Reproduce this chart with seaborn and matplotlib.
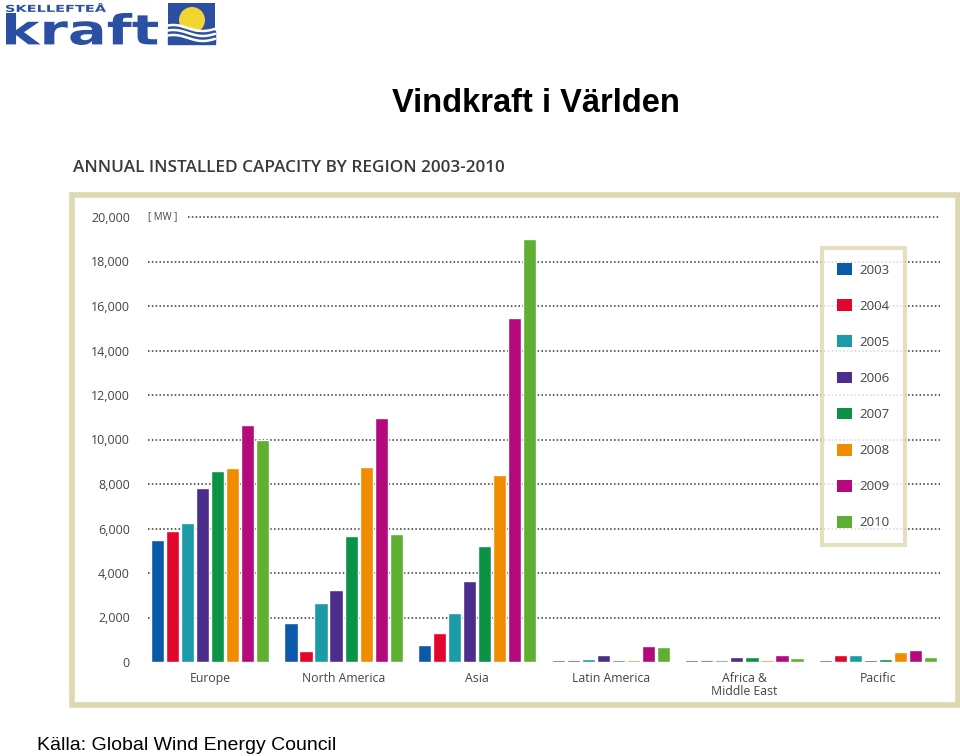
import pandas as pd
import matplotlib.pyplot as plt
import matplotlib.patches as mpatches
from matplotlib.textpath import TextPath
from matplotlib.font_manager import FontProperties
from matplotlib.transforms import Affine2D
import seaborn as sns
import numpy as np

# Data (MW installed per year)
regions = ['Europe', 'North America', 'Asia', 'Latin America', 'Africa &\nMiddle East', 'Pacific']
years = ['2003', '2004', '2005', '2006', '2007', '2008', '2009', '2010']
europe = [5500, 5900, 6250, 7800, 8600, 8700, 10650, 10000]
north_america = [1750, 500, 2650, 3250, 5650, 8750, 10950, 5750]
asia = [780, 1300, 2200, 3650, 5200, 8400, 15450, 19000]
latin_america = [70, 70, 120, 310, 70, 110, 730, 690]
africa_me = [70, 70, 70, 220, 220, 90, 300, 170]
pacific = [70, 310, 310, 110, 150, 430, 550, 210]
y_ticks = [0, 2000, 4000, 6000, 8000, 10000, 12000, 14000, 16000, 18000, 20000]

colors = ['#0b5aa9', '#e2062c', '#1b9aa8', '#4b2d8b', '#0a9346', '#f18b00', '#b4097c', '#5eaf32']

series = [europe, north_america, asia, latin_america, africa_me, pacific]
rows = []
for reg, vals in zip(regions, series):
    for yr, v in zip(years, vals):
        rows.append({'region': reg, 'year': yr, 'mw': v})
df = pd.DataFrame(rows)

W, H = 960, 756
def fx(x):
    return x / W
def fy(y):
    return 1 - y / H

sns.set_theme(style="white")
plt.rcParams['font.family'] = ['Open Sans', 'DejaVu Sans']

fig = plt.figure(figsize=(9.6, 7.56), dpi=100)
fig.patch.set_facecolor('white')

# chart frame (behind the axes)
frame = mpatches.Rectangle((fx(72), fy(705)), fx(958) - fx(72), fy(195) - fy(705),
                           transform=fig.transFigure, facecolor='white',
                           edgecolor='#dcd8b0', linewidth=4, zorder=-5)
fig.patches.append(frame)

# main axes: y=0 at px 662, 20000 at px 217
ymax = 20400
px_per = (662 - 217) / 20000
top_px = 662 - ymax * px_per
left_px, right_px = 148, 940
ax = fig.add_axes([fx(left_px), fy(662), fx(right_px) - fx(left_px), fy(top_px) - fy(662)])
ax.set_facecolor('none')

sns.barplot(data=df, x='region', y='mw', hue='year', palette=colors, width=0.9, gap=0.12,
            saturation=1, ax=ax, zorder=3, legend=True)

xpx = (878 - 210) / 5
ax.set_xlim((left_px - 210) / xpx, (right_px - 210) / xpx)
ax.set_ylim(0, ymax)
ax.set_yticks(y_ticks)
ax.set_yticklabels([f'{t:,}' for t in y_ticks])
for t in y_ticks[1:]:
    start = 0.05 if t == 20000 else 0.0
    ax.axhline(t, xmin=start, xmax=1, color='#333333', linestyle=(0, (1, 1.5)),
               linewidth=1.1, zorder=1)
for s in ax.spines.values():
    s.set_visible(False)
ax.tick_params(axis='y', length=0, pad=13, labelsize=9, labelcolor='#444444')
ax.tick_params(axis='x', length=0, pad=7, labelsize=8.8, labelcolor='#444444')
for lab in ax.get_xticklabels():
    lab.set_linespacing(1.0)
ax.set_xlabel('')
ax.set_ylabel('')
ax.text(0.0, 20000, '[ MW ]', fontsize=7, color='#444444', va='center', ha='left',
        transform=ax.get_yaxis_transform())

# legend box
handles, labels = ax.get_legend_handles_labels()
ax.get_legend().remove()
leg = fig.legend(handles, labels, loc='upper left', bbox_to_anchor=(fx(822), fy(248)),
                 bbox_transform=fig.transFigure, borderaxespad=0, frameon=True,
                 fancybox=False, fontsize=9.5, labelspacing=1.72, handlelength=1.15,
                 handleheight=1.0, handletextpad=0.55, borderpad=1.15, labelcolor='#444444')
leg.get_frame().set_edgecolor('#dcd8b0')
leg.get_frame().set_linewidth(3)
for h in leg.legend_handles:
    h.set_edgecolor('none')

# headings
fig.text(fx(536), fy(112), 'Vindkraft i Världen', fontsize=23.5, fontweight='bold',
         family=['Liberation Sans', 'DejaVu Sans'], ha='center', va='baseline', color='black')
fig.text(fx(73), fy(172), 'ANNUAL INSTALLED CAPACITY BY REGION 2003-2010', fontsize=12.3,
         fontweight='semibold', ha='left', va='baseline', color='#3a3a3a')
fig.text(fx(37), fy(750), 'Källa: Global Wind Energy Council', fontsize=14,
         family=['Liberation Sans', 'DejaVu Sans'], ha='left', va='baseline', color='black')

# company logo, drawn in pixel units (y downwards)
blue = '#2b4fa2'
lax = fig.add_axes([0, fy(50), fx(220), 50 / H])
lax.set_xlim(0, 220)
lax.set_ylim(50, 0)
lax.axis('off')

def fit_text(s, x0, x1, y0, y1):
    tp = TextPath((0, 0), s, size=10, prop=FontProperties(family='DejaVu Sans', weight='heavy'))
    ext = tp.get_extents()
    sx = (x1 - x0) / ext.width
    sy = (y1 - y0) / ext.height
    tr = Affine2D().translate(-ext.x0, -ext.y0).scale(sx, -sy).translate(x0, y1)
    lax.add_patch(mpatches.PathPatch(tr.transform_path(tp), facecolor=blue, edgecolor='none'))

fit_text('SKELLEFTEÅ', 6, 106, 3, 12)
fit_text('kraft', 6, 158, 13, 45)

lax.add_patch(mpatches.Rectangle((168, 3), 47, 41, facecolor=blue, edgecolor='none'))
lax.add_patch(mpatches.Circle((192, 20), 13, facecolor='#f2d531', edgecolor='none'))
wx = np.linspace(168, 215, 60)
wave = np.sin((wx - 168) / 47 * 5 + 1)
lax.fill_between(wx, 44, 30 - 3 * wave, color=blue)
for off in [28, 33, 38]:
    lax.plot(wx, off - 3 * wave, color='white', linewidth=1.8)

fig.savefig('out.png', dpi=100)
